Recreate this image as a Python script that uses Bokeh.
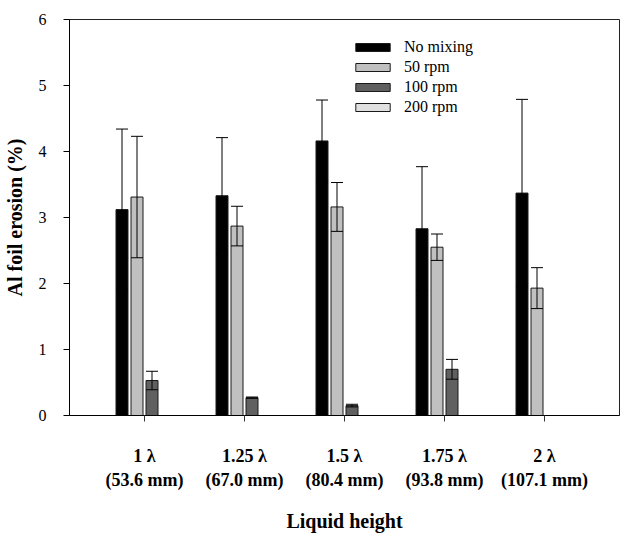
import numpy as np
from bokeh.plotting import figure
from bokeh.models import (ColumnDataSource, Range1d, FixedTicker, Whisker, TeeHead,
                          Legend, LegendItem)
from bokeh.transform import dodge
from bokeh.embed import file_html
from bokeh.resources import INLINE

# ---- data ----
groups = [1, 2, 3, 4, 5]
group_labels = ["1 λ\n(53.6 mm)", "1.25 λ\n(67.0 mm)", "1.5 λ\n(80.4 mm)",
                "1.75 λ\n(93.8 mm)", "2 λ\n(107.1 mm)"]
series_names = ["No mixing", "50 rpm", "100 rpm", "200 rpm"]

no_mixing = [3.12, 3.33, 4.16, 2.83, 3.37]
no_mixing_err = [1.22, 0.88, 0.62, 0.94, 1.42]
rpm50 = [3.31, 2.87, 3.16, 2.55, 1.93]
rpm50_err = [0.92, 0.30, 0.37, 0.20, 0.31]
rpm100 = [0.53, 0.27, 0.15, 0.70, np.nan]
rpm100_err = [0.14, 0.01, 0.02, 0.15, np.nan]
rpm200 = [np.nan, np.nan, np.nan, np.nan, np.nan]
rpm200_err = [np.nan, np.nan, np.nan, np.nan, np.nan]

values = [no_mixing, rpm50, rpm100, rpm200]
errors = [no_mixing_err, rpm50_err, rpm100_err, rpm200_err]
colors = ["#000000", "#c0c0c0", "#606060", "#e0e0e0"]
offsets = [-0.225, -0.075, 0.075, 0.225]
bar_w = 0.12

FONT = "Liberation Serif"

p = figure(width=640, height=534, output_backend="svg", toolbar_location=None,
           x_range=Range1d(0.25, 5.75), y_range=Range1d(0, 6),
           min_border_left=67, min_border_top=19, min_border_right=21,
           min_border_bottom=118)
p.background_fill_color = "white"
p.border_fill_color = "white"
p.outline_line_color = "#222222"
p.outline_line_width = 1
p.xgrid.visible = False
p.ygrid.visible = False

items = []
for name, vals, errs, col, off in zip(series_names, values, errors, colors, offsets):
    v = np.array(vals, dtype=float)
    e = np.array(errs, dtype=float)
    src = ColumnDataSource(dict(x=groups, top=v, upper=v + e, lower=v - e))
    r = p.vbar(x=dodge("x", off, range=p.x_range), top="top", width=bar_w, bottom=0,
               source=src, fill_color=col, line_color="#1a1a1a", line_width=1)
    items.append(LegendItem(label=name, renderers=[r]))
    w = Whisker(base=dodge("x", off, range=p.x_range), upper="upper", lower="lower",
                source=src, dimension="height", line_color="black", line_width=1,
                upper_head=TeeHead(size=12, line_color="black", line_width=1),
                lower_head=TeeHead(size=12, line_color="black", line_width=1),
                level="annotation")
    p.add_layout(w)

legend = Legend(items=items, location=(282, 299), orientation="vertical",
                border_line_color=None, background_fill_alpha=0,
                padding=0, margin=0, spacing=2,
                glyph_width=43, glyph_height=10, label_standoff=10,
                label_text_font=FONT, label_text_font_size="16px",
                label_text_color="black", label_height=16)
p.add_layout(legend)

# x axis
p.xaxis.ticker = FixedTicker(ticks=groups)
p.xaxis.major_label_overrides = {g: lab for g, lab in zip(groups, group_labels)}
p.xaxis.major_label_text_font = FONT
p.xaxis.major_label_text_font_size = "18px"
p.xaxis.major_label_text_font_style = "bold"
p.xaxis.major_label_text_color = "black"
p.xaxis.major_label_standoff = 24
p.xaxis.major_tick_out = 6
p.xaxis.major_tick_in = 0
p.xaxis.minor_tick_line_color = None
p.xaxis.axis_line_color = "black"
p.xaxis.major_tick_line_color = "#333333"
p.xaxis.axis_label = "Liquid height"
p.xaxis.axis_label_text_font = FONT
p.xaxis.axis_label_text_font_size = "20px"
p.xaxis.axis_label_text_font_style = "bold"
p.xaxis.axis_label_text_color = "black"
p.xaxis.axis_label_standoff = 17

# y axis
p.yaxis.ticker = FixedTicker(ticks=[0, 1, 2, 3, 4, 5, 6])
p.yaxis.major_label_text_font = FONT
p.yaxis.major_label_text_font_size = "16px"
p.yaxis.major_label_text_color = "black"
p.yaxis.major_label_standoff = 17
p.yaxis.major_tick_out = 6
p.yaxis.major_tick_in = 0
p.yaxis.minor_tick_line_color = None
p.yaxis.axis_line_color = "black"
p.yaxis.major_tick_line_color = "black"
p.yaxis.axis_label = "Al foil erosion (%)"
p.yaxis.axis_label_text_font = FONT
p.yaxis.axis_label_text_font_size = "20px"
p.yaxis.axis_label_text_font_style = "bold"
p.yaxis.axis_label_text_color = "black"
p.yaxis.axis_label_standoff = 10

open("out.html", "w").write(file_html(p, INLINE))
